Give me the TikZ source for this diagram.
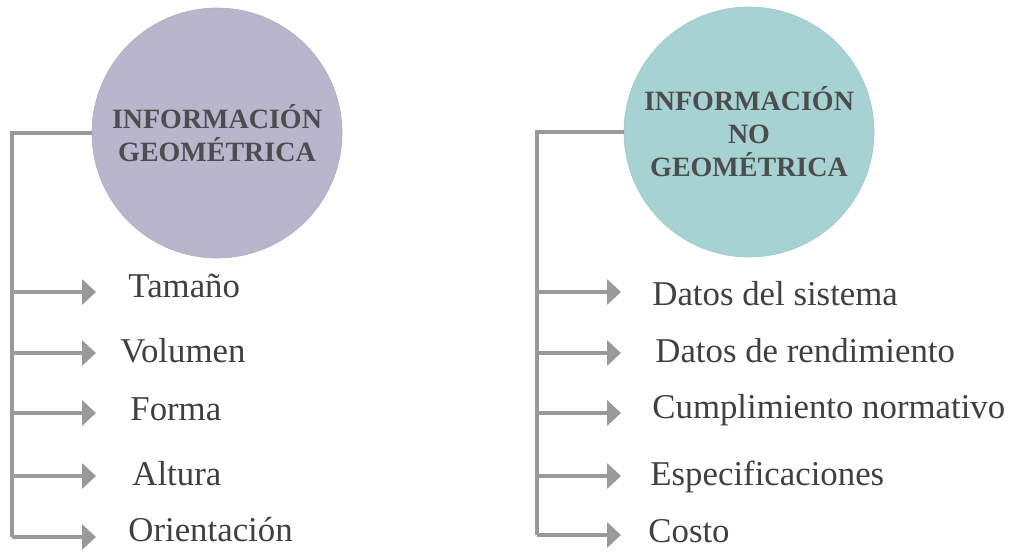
\documentclass[tikz,border=0pt]{standalone}
\usepackage{fontspec}
\setmainfont{Liberation Serif}
\usetikzlibrary{arrows.meta, positioning}
\definecolor{geofill}{HTML}{B9B5CD}
\definecolor{nogeofill}{HTML}{A7D2D3}
\definecolor{linegray}{HTML}{999999}
\definecolor{textgray}{HTML}{404040}
\definecolor{headgray}{HTML}{4D4D4D}
\tikzset{
  circ/.style={circle, minimum size=125pt, inner sep=0pt, align=center,
    font=\fontsize{14}{16.5}\selectfont\bfseries, text=headgray},
  trunk/.style={draw=linegray, line width=2pt},
  arr/.style={-{Triangle[length=7pt, width=12.5pt]}, draw=linegray, fill=linegray, line width=2pt},
  item/.style={anchor=base west, inner sep=0pt, text=textgray,
    font=\fontsize{17.4}{20}\selectfont}
}

\begin{document}
\begin{tikzpicture}[x=0.5pt, y=-0.5pt]
\useasboundingbox (0,0) rectangle (1011,551);

\node [circ, fill=geofill, draw=geofill!95!black, line width=0.3pt] (geo) at (217,133) {INFORMACIÓN\\GEOMÉTRICA};
\node [circ, fill=nogeofill, draw=nogeofill!95!black, line width=0.3pt] (nogeo) at (749,132) {INFORMACIÓN\\NO\\GEOMÉTRICA};

% rama izquierda
\coordinate (gbot) at (12,537);
\coordinate (gtip) at (96,0);
\draw[trunk] (geo.west) -| (gbot);
\coordinate (g1) at (12,292);
\coordinate (g2) at (12,353);
\coordinate (g3) at (12,413);
\coordinate (g4) at (12,476);
\coordinate (g5) at (12,537);
\draw[arr] (g1) -- (g1 -| gtip);
\draw[arr] (g2) -- (g2 -| gtip);
\draw[arr] (g3) -- (g3 -| gtip);
\draw[arr] (g4) -- (g4 -| gtip);
\draw[arr] (g5) -- (g5 -| gtip);
\node [item] (tam) at (128,297) {Tamaño};
\node [item] (vol) at (120,362) {Volumen};
\node [item] (for) at (130,420) {Forma};
\node [item] (alt) at (132,485) {Altura};
\node [item] (ori) at (128,541) {Orientación};

% rama derecha
\coordinate (nbot) at (537,535);
\coordinate (ntip) at (621,0);
\draw[trunk] (nogeo.west) -| (nbot);
\coordinate (n1) at (537,292);
\coordinate (n2) at (537,353);
\coordinate (n3) at (537,413);
\coordinate (n4) at (537,476);
\coordinate (n5) at (537,535);
\draw[arr] (n1) -- (n1 -| ntip);
\draw[arr] (n2) -- (n2 -| ntip);
\draw[arr] (n3) -- (n3 -| ntip);
\draw[arr] (n4) -- (n4 -| ntip);
\draw[arr] (n5) -- (n5 -| ntip);
\node [item] (sis) at (652,305) {Datos del sistema};
\node [item] (ren) at (655,362) {Datos de rendimiento};
\node [item] (cum) at (652,418) {Cumplimiento normativo};
\node [item] (esp) at (650,485) {Especificaciones};
\node [item] (cos) at (648,542) {Costo};

\end{tikzpicture}
\end{document}
